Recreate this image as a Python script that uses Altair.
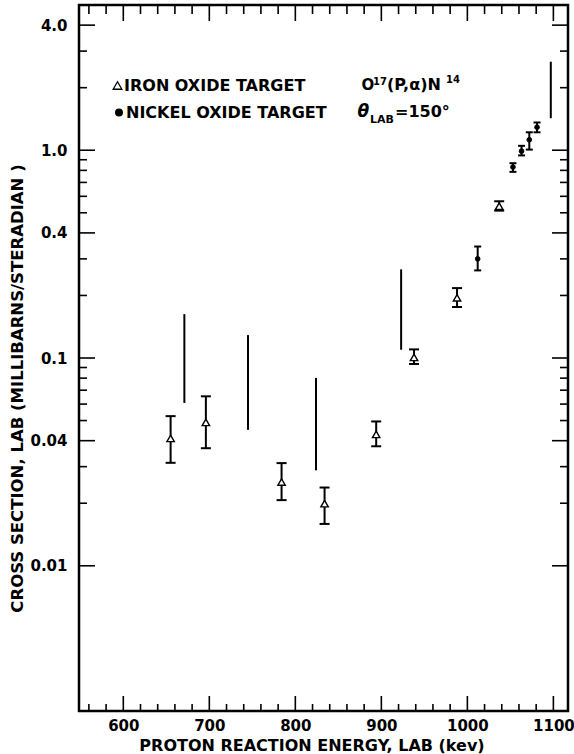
import altair as alt
import pandas as pd

# ---------------- data ----------------
iron_energy = [655, 696, 784, 834, 894, 938, 988, 1037]
iron_value = [0.041, 0.049, 0.0253, 0.0199, 0.0429, 0.1007, 0.195, 0.538]
iron_low = [0.0313, 0.0368, 0.0207, 0.0159, 0.0376, 0.0936, 0.176, 0.512]
iron_high = [0.0525, 0.0654, 0.0312, 0.0238, 0.0495, 0.110, 0.217, 0.568]

nickel_energy = [1012, 1053, 1063, 1072, 1081]
nickel_value = [0.300, 0.830, 0.990, 1.123, 1.29]
nickel_low = [0.264, 0.787, 0.944, 1.007, 1.22]
nickel_high = [0.344, 0.866, 1.05, 1.22, 1.36]

band_energy = [671, 745, 824, 923, 1097]
band_low = [0.0608, 0.0451, 0.0288, 0.1096, 1.426]
band_high = [0.1626, 0.1289, 0.0802, 0.267, 2.667]

targets = ["IRON OXIDE TARGET", "NICKEL OXIDE TARGET"]

x_major = [600, 700, 800, 900, 1000, 1100]
x_minor = [560, 580, 620, 640, 660, 680, 720, 740, 760, 780, 820, 840, 860, 880,
           920, 940, 960, 980, 1020, 1040, 1060, 1080]
y_major = [0.01, 0.04, 0.1, 0.4, 1.0, 4.0]
y_labels = ["0.01", "0.04", "0.1", "0.4", "1.0", "4.0"]
y_minor = [0.02, 0.03, 0.05, 0.06, 0.07, 0.08, 0.09, 0.2, 0.3, 0.5, 0.6, 0.7,
           0.8, 0.9, 2.0, 3.0]

x_title = "PROTON REACTION ENERGY, LAB (kev)"
y_title = "CROSS SECTION, LAB (MILLIBARNS/STERADIAN )"

# ---------------- layout ----------------
W, H = 489, 706
FONT = "DejaVu Sans"

xscale = alt.Scale(domain=[548.5, 1117], zero=False, nice=False)
yscale = alt.Scale(type="log", domain=[0.002, 5], nice=False)

label_expr = "[" + ",".join("'%s'" % s for s in y_labels) + "][indexof([" + \
    ",".join(str(v) for v in y_major) + "], datum.value)]"

xaxis = alt.Axis(values=x_major, format="d", title=x_title, grid=False, domain=False,
                 ticks=False, tickSize=0, labelPadding=19, labelBaseline="alphabetic",
                 titleX=232.5, titleY=39.5, titleBaseline="alphabetic",
                 titleAlign="center", titleFontSize=16)
yaxis = alt.Axis(values=y_major, labelExpr=label_expr, title=y_title, grid=False,
                 domain=False, ticks=False, tickSize=0, labelPadding=12,
                 titleX=-61.5, titleY=383, titleBaseline="middle", titleAngle=270,
                 titleAlign="center", titleFontSize=16.5)

iron = pd.DataFrame({"energy": iron_energy, "value": iron_value, "low": iron_low,
                     "high": iron_high})
nickel = pd.DataFrame({"energy": nickel_energy, "value": nickel_value,
                       "low": nickel_low, "high": nickel_high})
bands = pd.DataFrame({"energy": band_energy, "low": band_low, "high": band_high})

iron_caps = pd.DataFrame({"energy": iron_energy + iron_energy,
                          "value": iron_low + iron_high})
nickel_caps = pd.DataFrame({"energy": nickel_energy + nickel_energy,
                            "value": nickel_low + nickel_high})


def X(f):
    return alt.X(f, scale=xscale, axis=xaxis)


def Y(f):
    return alt.Y(f, scale=yscale, axis=yaxis)


band_layer = alt.Chart(bands).mark_rule(color="black", strokeWidth=2).encode(
    x=X("energy:Q"), y=Y("low:Q"), y2="high:Q")

iron_err = alt.Chart(iron).mark_rule(color="black", strokeWidth=2).encode(
    x=X("energy:Q"), y=Y("low:Q"), y2="high:Q")
nickel_err = alt.Chart(nickel).mark_rule(color="black", strokeWidth=2).encode(
    x=X("energy:Q"), y=Y("low:Q"), y2="high:Q")

iron_cap_layer = alt.Chart(iron_caps).mark_tick(
    orient="horizontal", color="black", size=10, thickness=2, opacity=1).encode(
    x=X("energy:Q"), y=Y("value:Q"))
nickel_cap_layer = alt.Chart(nickel_caps).mark_tick(
    orient="horizontal", color="black", size=7, thickness=2, opacity=1).encode(
    x=X("energy:Q"), y=Y("value:Q"))

iron_pts = alt.Chart(iron).mark_point(shape="triangle-up", fill="white", filled=True,
                                      stroke="black", strokeWidth=1.4, opacity=1,
                                      size=55).encode(
    x=X("energy:Q"), y=Y("value:Q"))
nickel_pts = alt.Chart(nickel).mark_point(shape="circle", filled=True, fill="black",
                                          stroke="black", strokeWidth=1, opacity=1,
                                          size=22).encode(
    x=X("energy:Q"), y=Y("value:Q"))

# inward frame ticks
xmaj = pd.DataFrame({"v": x_major})
xmin = pd.DataFrame({"v": x_minor})
ymaj = pd.DataFrame({"v": y_major})
ymin = pd.DataFrame({"v": y_minor})


def xticks(df, y0, y1):
    return alt.Chart(df).mark_rule(color="black", strokeWidth=1.6).encode(
        x=X("v:Q"), y=alt.value(y0), y2=alt.value(y1))


def yticks(df, x0, x1):
    return alt.Chart(df).mark_rule(color="black", strokeWidth=1.6).encode(
        y=Y("v:Q"), x=alt.value(x0), x2=alt.value(x1))


tick_layers = [
    xticks(xmaj, H, H - 15), xticks(xmin, H, H - 7),
    xticks(xmaj, 0, 16), xticks(xmin, 0, 9),
    yticks(ymaj, 0, 16), yticks(ymin, 0, 8),
    yticks(ymaj, W, W - 16), yticks(ymin, W, W - 8),
]

# legend and reaction annotation
one = pd.DataFrame({"a": [0]})


def txt(s, x, y, size=15, style="normal"):
    return alt.Chart(one).mark_text(text=s, font=FONT, fontWeight="bold", fontSize=size,
                                    fontStyle=style, align="left",
                                    baseline="alphabetic", color="black").encode(
        x=alt.value(x), y=alt.value(y))


def sym(shape, fill, size, x, y):
    return alt.Chart(one).mark_point(shape=shape, filled=True, fill=fill,
                                     stroke="black", strokeWidth=1.3, opacity=1,
                                     size=size).encode(x=alt.value(x), y=alt.value(y))


notes = [
    sym("triangle-up", "white", 75, 38.5, 80.5), txt(targets[0], 45, 85.7, 16),
    sym("circle", "black", 45, 40, 107.5), txt(targets[1], 47, 113, 16),
    txt("O", 282.5, 85), txt("17", 294, 80, 10), txt("(P,α)N", 308, 85, 16),
    txt("14", 367, 78, 10),
    txt("θ", 278.5, 112, 17, "italic"), txt("LAB", 291, 118, 11),
    txt("=150°", 316, 112, 16),
]

chart = alt.layer(band_layer, iron_err, nickel_err, iron_cap_layer, nickel_cap_layer,
                  iron_pts, nickel_pts, *tick_layers, *notes).properties(
    width=W, height=H,
    autosize=alt.AutoSizeParams(type="none"),
    padding={"left": 79, "top": 5, "right": 6, "bottom": 43},
    background="white",
).configure_axis(
    labelFont=FONT, labelFontSize=15, labelFontWeight="bold", labelColor="black",
    titleFont=FONT, titleFontWeight="bold", titleColor="black",
).configure_view(stroke="black", strokeWidth=2.5)

chart.save("out.html", embed_options={"renderer": "svg", "actions": False})
